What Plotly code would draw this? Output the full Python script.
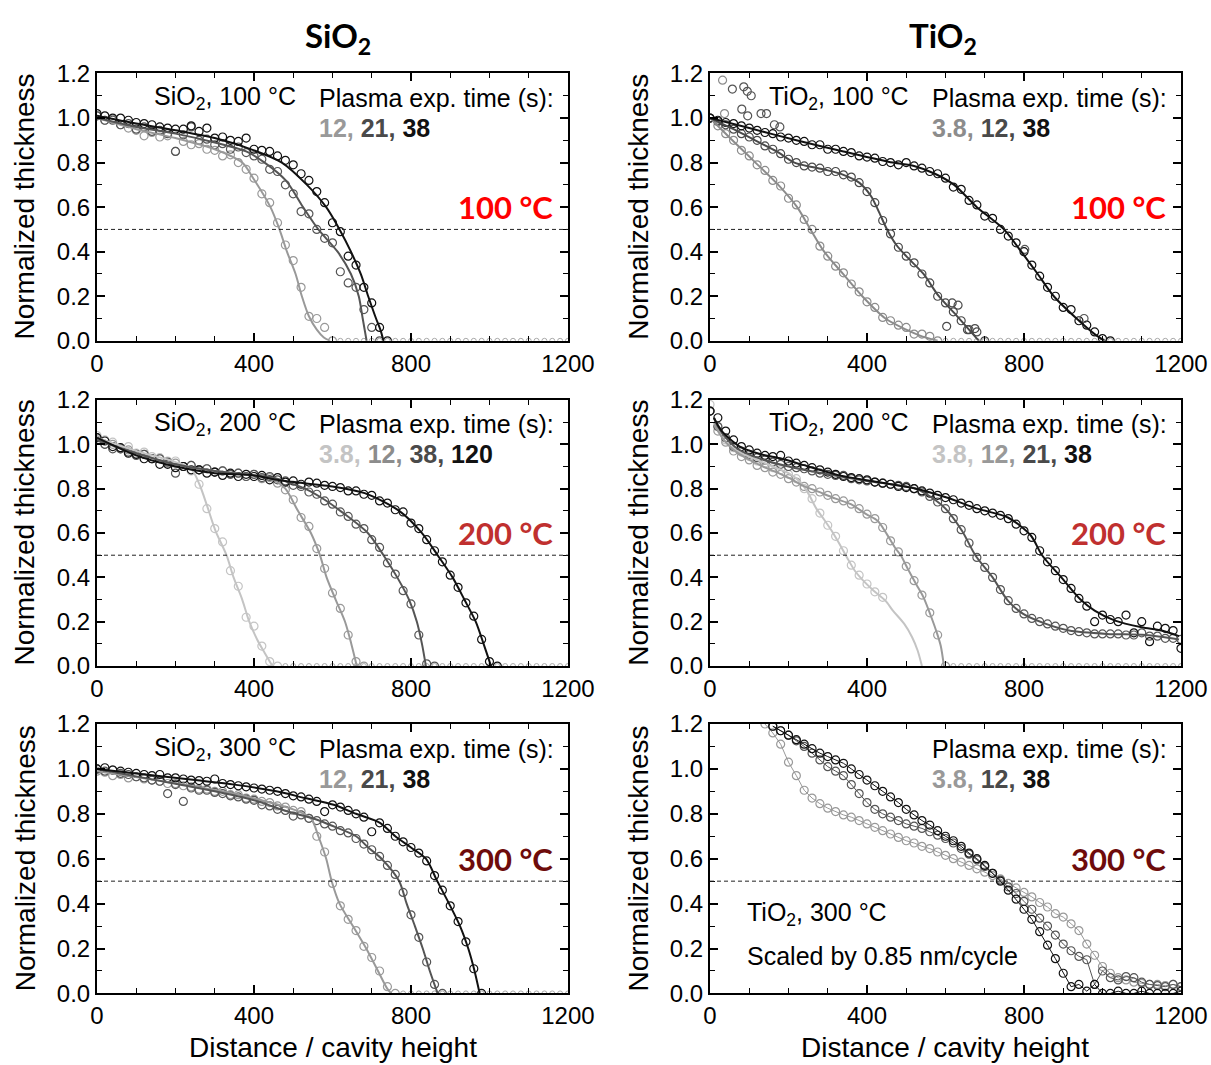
import plotly.graph_objects as go

# ---------------- shared x grid of the measured points ----------------
X_GRID = [0, 20, 40, 60, 80, 100, 120, 140, 160, 180, 200, 220, 240, 260, 280, 300,
          320, 340, 360, 380, 400, 420, 440, 460, 480, 500, 520, 540, 560, 580, 600,
          620, 640, 660, 680, 700, 720, 740, 760, 780, 800, 820, 840, 860, 880, 900,
          920, 940, 960, 980, 1000, 1020, 1040, 1060, 1080, 1100, 1120, 1140, 1160,
          1180, 1200]

# ---------------- Panel A: SiO2, 100 C (times 12, 21, 38 s) ----------------
A12_y = [1.01, 0.99, 0.995, 0.97, 0.955, 0.945, 0.92, 0.935, 0.915, 0.92, 0.85, 0.895,
         0.88, 0.885, 0.86, 0.855, 0.83, 0.835, 0.80, 0.77, 0.73, 0.66, 0.62, 0.53, 0.43,
         0.36, 0.24, 0.11, 0.10, 0.06, 0.0]
A12_fit_x = [0, 100, 200, 300, 370, 398, 442, 465, 484, 506, 522, 540, 560, 578, 594]
A12_fit_y = [1.0, 0.95, 0.91, 0.86, 0.8, 0.73, 0.6, 0.5, 0.4, 0.3, 0.2, 0.11, 0.05, 0.015, 0.0]
A21_y = [1.01, 0.99, 0.99, 0.97, 0.975, 0.95, 0.96, 0.94, 0.945, 0.93, 0.85, 0.925, 0.96,
         0.9, 0.905, 0.88, 0.885, 0.86, 0.87, 0.845, 0.83, 0.815, 0.77, 0.76, 0.7, 0.66,
         0.58, 0.57, 0.5, 0.46, 0.44, 0.31, 0.26, 0.24, 0.14, 0.06, 0.0]
A21_fit_x = [0, 100, 200, 300, 380, 427, 481, 525, 564, 613, 647, 667, 677, 687]
A21_fit_y = [1.0, 0.96, 0.93, 0.89, 0.85, 0.8, 0.72, 0.6, 0.5, 0.4, 0.3, 0.2, 0.1, 0.0]
A38_y = [1.02, 1.01, 1.0, 1.0, 0.99, 0.98, 0.975, 0.97, 0.96, 0.955, 0.95, 0.95, 0.965,
         0.94, 0.955, 0.91, 0.915, 0.9, 0.895, 0.91, 0.86, 0.855, 0.85, 0.83, 0.81, 0.79,
         0.75, 0.72, 0.67, 0.62, 0.53, 0.49, 0.38, 0.34, 0.24, 0.17, 0.06, 0.0]
A38_fit_x = [0, 100, 200, 300, 400, 471, 535, 584, 618, 647, 672, 691, 711, 722, 730]
A38_fit_y = [1.01, 0.975, 0.945, 0.91, 0.855, 0.8, 0.7, 0.6, 0.5, 0.4, 0.3, 0.2, 0.1, 0.05, 0.0]
A_tail_y = [0, 0, 0, 0, 0, 0, 0, 0, 0, 0, 0, 0, 0, 0, 0, 0, 0, 0, 0, 0, 0, 0, 0, 0, 0,
            0, 0, 0, 0, 0]

# ---------------- Panel B: TiO2, 100 C (times 3.8, 12, 38 s) ----------------
B3p8_y = [1.0, 0.965, 0.93, 0.9, 0.855, 0.83, 0.79, 0.765, 0.72, 0.695, 0.64, 0.61, 0.545,
          0.5, 0.425, 0.38, 0.335, 0.305, 0.255, 0.22, 0.175, 0.15, 0.105, 0.09, 0.07,
          0.06, 0.03, 0.03, 0.02, 0.0]
B3p8_out_x = [32, 37]
B3p8_out_y = [1.17, 1.02]
B3p8_fit_x = [0, 57, 110, 174, 222, 256, 291, 339, 388, 447, 500, 540, 580]
B3p8_fit_y = [1.0, 0.9, 0.81, 0.7, 0.6, 0.5, 0.4, 0.3, 0.2, 0.1, 0.05, 0.02, 0.0]
B12_y = [1.0, 0.985, 0.97, 0.95, 0.93, 0.915, 0.9, 0.875, 0.86, 0.84, 0.815, 0.8, 0.785,
         0.78, 0.775, 0.76, 0.76, 0.745, 0.735, 0.71, 0.67, 0.62, 0.54, 0.48, 0.42, 0.38,
         0.35, 0.3, 0.26, 0.2, 0.17, 0.13, 0.09, 0.05, 0.04, 0.0]
B12_out_x = [603, 617, 632, 656, 675]
B12_out_y = [0.065, 0.17, 0.16, 0.05, 0.055]
B12_fit_x = [0, 60, 115, 170, 215, 260, 300, 340, 380, 410, 430, 451, 475, 500, 544, 583, 630, 685]
B12_fit_y = [1.0, 0.95, 0.9, 0.85, 0.8, 0.78, 0.765, 0.745, 0.71, 0.65, 0.58, 0.5, 0.43,
             0.38, 0.3, 0.2, 0.11, 0.0]
B38_y = [1.0, 0.99, 0.98, 0.975, 0.965, 0.955, 0.945, 0.935, 0.93, 0.915, 0.91, 0.9, 0.895,
         0.88, 0.88, 0.86, 0.86, 0.85, 0.845, 0.83, 0.825, 0.82, 0.805, 0.8, 0.79, 0.8,
         0.785, 0.775, 0.76, 0.75, 0.73, 0.69, 0.68, 0.63, 0.61, 0.56, 0.55, 0.5, 0.47,
         0.44, 0.4, 0.34, 0.29, 0.24, 0.2, 0.15, 0.14, 0.09, 0.07, 0.04, 0.01, 0.0]
B38_out_x = [57, 86, 95, 105, 81, 96, 130, 144, 164, 178, 802, 953]
B38_out_y = [1.13, 1.14, 1.12, 1.1, 1.04, 1.01, 1.02, 1.02, 0.97, 0.96, 0.41, 0.1]
B38_fit_x = [0, 100, 220, 340, 466, 520, 573, 622, 680, 749, 793, 835, 876, 934, 980, 1005]
B38_fit_y = [1.0, 0.955, 0.9, 0.85, 0.8, 0.785, 0.75, 0.7, 0.6, 0.5, 0.4, 0.3, 0.2, 0.1, 0.03, 0.0]
B_tail_y = [0, 0, 0, 0, 0, 0, 0, 0, 0, 0, 0, 0, 0, 0, 0, 0, 0, 0, 0, 0, 0, 0, 0, 0, 0,
            0, 0, 0, 0, 0, 0]

# ---------------- Panel C: SiO2, 200 C (times 3.8, 12, 38, 120 s) ----------------
C3p8_y = [1.04, 1.02, 1.01, 0.98, 0.99, 0.96, 0.965, 0.945, 0.94, 0.925, 0.925, 0.9, 0.88,
          0.82, 0.71, 0.62, 0.56, 0.43, 0.36, 0.22, 0.18, 0.09, 0.02, 0.0]
C3p8_fit_x = [0, 100, 200, 240, 261, 281, 302, 330, 348, 370, 388, 408, 427, 447]
C3p8_fit_y = [1.03, 0.97, 0.92, 0.89, 0.82, 0.72, 0.61, 0.5, 0.4, 0.3, 0.2, 0.12, 0.06, 0.0]
C12_y = [1.02, 1.0, 1.0, 0.98, 0.975, 0.955, 0.955, 0.935, 0.935, 0.915, 0.915, 0.9, 0.905,
         0.885, 0.89, 0.875, 0.88, 0.865, 0.87, 0.855, 0.865, 0.845, 0.85, 0.825, 0.795,
         0.75, 0.67, 0.63, 0.53, 0.44, 0.33, 0.26, 0.14, 0.02, 0.0]
C12_fit_x = [0, 100, 200, 300, 400, 450, 480, 512, 545, 568, 585, 608, 632, 648, 662]
C12_fit_y = [1.02, 0.96, 0.91, 0.88, 0.86, 0.84, 0.8, 0.7, 0.6, 0.5, 0.4, 0.3, 0.2, 0.1, 0.0]
C38_y = [1.03, 1.0, 0.98, 0.98, 0.965, 0.95, 0.955, 0.935, 0.935, 0.92, 0.87, 0.9, 0.905,
         0.885, 0.89, 0.875, 0.88, 0.865, 0.87, 0.855, 0.865, 0.85, 0.855, 0.84, 0.835,
         0.815, 0.81, 0.785, 0.775, 0.745, 0.73, 0.695, 0.675, 0.64, 0.62, 0.57, 0.535,
         0.465, 0.415, 0.34, 0.28, 0.14, 0.01, 0.0]
C38_fit_x = [0, 100, 200, 300, 400, 450, 500, 530, 580, 620, 690, 730, 765, 795, 815, 828, 838]
C38_fit_y = [1.02, 0.96, 0.91, 0.88, 0.86, 0.85, 0.82, 0.8, 0.75, 0.7, 0.6, 0.5, 0.4, 0.3,
             0.2, 0.1, 0.0]
C120_y = [1.03, 1.015, 0.99, 0.985, 0.96, 0.955, 0.935, 0.935, 0.91, 0.91, 0.895, 0.9,
          0.885, 0.885, 0.87, 0.875, 0.86, 0.87, 0.855, 0.865, 0.855, 0.86, 0.84, 0.85,
          0.83, 0.835, 0.82, 0.83, 0.825, 0.815, 0.81, 0.805, 0.79, 0.79, 0.775, 0.77,
          0.745, 0.735, 0.705, 0.695, 0.645, 0.62, 0.57, 0.52, 0.47, 0.41, 0.355, 0.285,
          0.225, 0.12, 0.02, 0.0]
C120_fit_x = [0, 100, 200, 300, 400, 457, 550, 600, 682, 770, 828, 868, 906, 936, 965, 985, 1004]
C120_fit_y = [1.03, 0.95, 0.9, 0.87, 0.86, 0.84, 0.82, 0.81, 0.78, 0.7, 0.6, 0.5, 0.4, 0.3,
              0.2, 0.1, 0.0]
C_tail_y = [0, 0, 0, 0, 0, 0, 0, 0, 0, 0, 0, 0, 0, 0, 0, 0, 0, 0, 0, 0, 0, 0, 0, 0, 0,
            0, 0, 0, 0, 0, 0, 0, 0, 0, 0, 0, 0]

# ---------------- Panel D: TiO2, 200 C (times 3.8, 12, 21, 38 s) ----------------
D3p8_y = [1.18, 1.08, 1.02, 0.985, 0.965, 0.945, 0.925, 0.915, 0.895, 0.885, 0.865, 0.845,
          0.8, 0.755, 0.69, 0.635, 0.585, 0.52, 0.455, 0.41, 0.37, 0.335, 0.31]
D3p8_fit_x = [10, 20, 40, 80, 120, 160, 200, 230, 250, 271, 291, 310, 330, 349, 369, 388,
              417, 447, 466, 495, 515, 529, 540]
D3p8_fit_y = [1.12, 1.07, 1.01, 0.96, 0.93, 0.9, 0.87, 0.83, 0.78, 0.71, 0.66, 0.61, 0.55,
              0.49, 0.43, 0.39, 0.34, 0.295, 0.25, 0.19, 0.13, 0.07, 0.0]
D12_y = [1.15, 1.06, 1.01, 0.97, 0.945, 0.93, 0.905, 0.895, 0.875, 0.865, 0.845, 0.83, 0.81,
         0.8, 0.785, 0.77, 0.755, 0.745, 0.73, 0.71, 0.685, 0.665, 0.625, 0.565, 0.515,
         0.45, 0.385, 0.32, 0.24, 0.14, 0.0]
D12_fit_x = [10, 20, 40, 60, 90, 135, 175, 205, 235, 271, 320, 359, 398, 427, 447, 471, 486,
             505, 525, 544, 564, 578, 588, 596]
D12_fit_y = [1.1, 1.06, 1.01, 0.975, 0.94, 0.9, 0.87, 0.845, 0.815, 0.79, 0.755, 0.73, 0.685,
             0.655, 0.605, 0.535, 0.5, 0.435, 0.37, 0.31, 0.22, 0.15, 0.09, 0.0]
D21_y = [1.15, 1.08, 1.03, 0.99, 0.97, 0.955, 0.94, 0.93, 0.92, 0.91, 0.9, 0.895, 0.89,
         0.88, 0.87, 0.865, 0.86, 0.86, 0.845, 0.84, 0.835, 0.83, 0.825, 0.82, 0.815, 0.81,
         0.8, 0.785, 0.765, 0.74, 0.71, 0.665, 0.615, 0.555, 0.49, 0.445, 0.4, 0.345,
         0.295, 0.26, 0.235, 0.215, 0.2, 0.19, 0.18, 0.17, 0.16, 0.155, 0.15, 0.145, 0.145,
         0.145, 0.145, 0.14, 0.14, 0.15, 0.135, 0.135, 0.125, 0.125, 0.12]
D21_fit_x = [10, 20, 40, 70, 120, 200, 300, 400, 480, 525, 573, 600, 642, 676, 720, 759, 798,
             856, 915, 1012, 1110, 1195]
D21_fit_y = [1.12, 1.08, 1.03, 0.98, 0.94, 0.9, 0.865, 0.835, 0.815, 0.8, 0.75, 0.71, 0.61,
             0.5, 0.4, 0.295, 0.235, 0.19, 0.16, 0.145, 0.14, 0.12]
D38_y = [1.15, 1.12, 1.06, 1.02, 0.99, 0.975, 0.96, 0.95, 0.945, 0.95, 0.925, 0.915, 0.905,
         0.895, 0.885, 0.875, 0.865, 0.855, 0.85, 0.845, 0.84, 0.83, 0.825, 0.82, 0.81,
         0.805, 0.8, 0.79, 0.78, 0.77, 0.76, 0.75, 0.735, 0.725, 0.71, 0.7, 0.69, 0.68,
         0.665, 0.64, 0.61, 0.58, 0.52, 0.47, 0.43, 0.39, 0.35, 0.305, 0.27, 0.2, 0.23,
         0.21, 0.2, 0.23, 0.15, 0.2, 0.11, 0.18, 0.17, 0.16, 0.08]
D38_fit_x = [10, 30, 76, 130, 183, 251, 330, 427, 525, 603, 681, 759, 817, 846, 895, 944, 980,
             1032, 1100, 1150, 1195]
D38_fit_y = [1.12, 1.06, 0.99, 0.955, 0.935, 0.9, 0.86, 0.83, 0.8, 0.76, 0.71, 0.67, 0.59,
             0.5, 0.4, 0.3, 0.25, 0.205, 0.175, 0.16, 0.135]
D_tail_y = [0, 0, 0, 0, 0, 0, 0, 0, 0, 0, 0, 0, 0, 0, 0, 0, 0, 0, 0, 0, 0, 0, 0, 0, 0,
            0, 0, 0, 0, 0]

# ---------------- Panel E: SiO2, 300 C (times 12, 21, 38 s) ----------------
E12_y = [0.99, 0.985, 0.97, 0.975, 0.96, 0.965, 0.955, 0.95, 0.945, 0.935, 0.935, 0.925,
         0.92, 0.91, 0.91, 0.9, 0.9, 0.885, 0.885, 0.87, 0.865, 0.855, 0.85, 0.835, 0.83,
         0.815, 0.81, 0.78, 0.7, 0.63, 0.49, 0.39, 0.33, 0.28, 0.21, 0.16, 0.1, 0.03, 0.0]
E12_fit_x = [0, 150, 320, 420, 500, 545, 564, 584, 598, 618, 652, 686, 716, 740, 750]
E12_fit_y = [0.99, 0.95, 0.9, 0.86, 0.82, 0.78, 0.7, 0.6, 0.5, 0.4, 0.3, 0.2, 0.1, 0.02, 0.0]
E21_y = [1.0, 0.99, 0.995, 0.98, 0.975, 0.965, 0.96, 0.95, 0.945, 0.89, 0.93, 0.855, 0.915,
         0.905, 0.905, 0.895, 0.89, 0.88, 0.875, 0.865, 0.86, 0.84, 0.835, 0.82, 0.815,
         0.79, 0.795, 0.78, 0.77, 0.755, 0.745, 0.725, 0.715, 0.69, 0.665, 0.64, 0.61, 0.57,
         0.53, 0.45, 0.35, 0.25, 0.14, 0.04, 0.0]
E21_fit_x = [0, 150, 300, 400, 486, 550, 594, 660, 691, 725, 770, 789, 810, 830, 848, 868]
E21_fit_y = [1.0, 0.95, 0.9, 0.86, 0.81, 0.78, 0.75, 0.7, 0.65, 0.6, 0.5, 0.4, 0.3, 0.2, 0.1, 0.0]
E38_y = [1.0, 1.005, 0.995, 0.99, 0.985, 0.98, 0.975, 0.97, 0.975, 0.96, 0.96, 0.955, 0.95,
         0.948, 0.945, 0.955, 0.935, 0.93, 0.925, 0.92, 0.915, 0.91, 0.905, 0.9, 0.89, 0.88,
         0.875, 0.865, 0.855, 0.81, 0.84, 0.83, 0.815, 0.8, 0.785, 0.72, 0.76, 0.735, 0.7,
         0.675, 0.65, 0.625, 0.59, 0.525, 0.46, 0.39, 0.32, 0.23, 0.11, 0.0]
E38_fit_x = [0, 100, 250, 350, 457, 530, 603, 660, 721, 760, 800, 838, 867, 897, 925, 946, 962, 975]
E38_fit_y = [1.0, 0.98, 0.95, 0.93, 0.9, 0.87, 0.84, 0.8, 0.76, 0.7, 0.65, 0.6, 0.5, 0.4, 0.3,
             0.2, 0.1, 0.0]
E_tail_y = [0, 0, 0, 0, 0, 0, 0, 0, 0, 0, 0, 0, 0, 0, 0, 0, 0, 0, 0, 0, 0, 0]

# ---------------- Panel F: TiO2, 300 C, scaled (times 3.8, 12, 38 s) ----------------
F3p8_y = [1.2, 1.16, 1.11, 1.03, 0.97, 0.905, 0.87, 0.845, 0.825, 0.81, 0.795, 0.785, 0.77,
          0.755, 0.74, 0.725, 0.71, 0.695, 0.68, 0.67, 0.655, 0.645, 0.63, 0.615, 0.6,
          0.585, 0.57, 0.555, 0.54, 0.525, 0.51, 0.49, 0.47, 0.45, 0.43, 0.405, 0.385,
          0.355, 0.34, 0.31, 0.28, 0.22, 0.17, 0.12, 0.09, 0.07, 0.06, 0.05, 0.045, 0.04,
          0.04, 0.035, 0.04, 0.03]
F12_y = [1.19, 1.17, 1.15, 1.125, 1.1, 1.07, 1.04, 1.01, 0.99, 0.97, 0.93, 0.89, 0.85, 0.82,
         0.8, 0.785, 0.77, 0.755, 0.745, 0.735, 0.72, 0.705, 0.69, 0.67, 0.645, 0.62, 0.595,
         0.565, 0.535, 0.505, 0.475, 0.445, 0.41, 0.375, 0.335, 0.3, 0.26, 0.22, 0.19,
         0.165, 0.15, 0.04, 0.1, 0.07, 0.06, 0.075, 0.07, 0.05, 0.04, 0.035, 0.03, 0.04, 0.03]
F38_y = [1.19, 1.17, 1.15, 1.13, 1.11, 1.09, 1.07, 1.055, 1.04, 1.025, 1.0, 0.975, 0.95,
         0.925, 0.9, 0.875, 0.85, 0.82, 0.795, 0.77, 0.75, 0.725, 0.7, 0.68, 0.655, 0.625,
         0.6, 0.57, 0.535, 0.5, 0.46, 0.42, 0.375, 0.33, 0.275, 0.215, 0.155, 0.09, 0.03,
         0.04, 0.01, 0.04, 0.0, 0.0, 0.01, 0.0, 0.0, 0.01, 0.0, 0.0, 0.0, 0.0, 0.01]
F3p8_start = 140
F12_start = 160
F38_start = 160

# ---------------- colours ----------------
LIGHT = "#c4c4c4"
MID = "#999999"
MIDB = "#8c8c8c"
DARK = "#555555"
DARKB = "#4a4a4a"
BLACK = "#111111"
TAIL = "#aaaaaa"
RED100 = "#ff0000"
RED200 = "#c0302f"
RED300 = "#6e0b0b"

FONT = "Arial, Liberation Sans, sans-serif"
BOLDFONT = "Lato, Open Sans, sans-serif"
MSIZE = 8


def gx(start, n):
    i = X_GRID.index(start)
    return X_GRID[i:i + n]


fig = go.Figure()

# panel: (axis index, series list, tail start, tail y, outliers)
# series: (y, start, fit_x, fit_y, colour)
PANELS = [
    (1, [(A12_y, 0, A12_fit_x, A12_fit_y, MID), (A21_y, 0, A21_fit_x, A21_fit_y, DARK),
         (A38_y, 0, A38_fit_x, A38_fit_y, BLACK)], 620, A_tail_y, []),
    (2, [(B3p8_y, 0, B3p8_fit_x, B3p8_fit_y, MIDB), (B12_y, 0, B12_fit_x, B12_fit_y, DARKB),
         (B38_y, 0, B38_fit_x, B38_fit_y, BLACK)], 600, B_tail_y,
     [(B3p8_out_x, B3p8_out_y, MIDB), (B12_out_x, B12_out_y, DARKB),
      (B38_out_x, B38_out_y, DARK)]),
    (3, [(C3p8_y, 0, C3p8_fit_x, C3p8_fit_y, LIGHT), (C12_y, 0, C12_fit_x, C12_fit_y, MID),
         (C38_y, 0, C38_fit_x, C38_fit_y, DARK), (C120_y, 0, C120_fit_x, C120_fit_y, BLACK)],
     480, C_tail_y, []),
    (4, [(D3p8_y, 0, D3p8_fit_x, D3p8_fit_y, LIGHT), (D12_y, 0, D12_fit_x, D12_fit_y, MID),
         (D21_y, 0, D21_fit_x, D21_fit_y, DARK), (D38_y, 0, D38_fit_x, D38_fit_y, BLACK)],
     620, D_tail_y, []),
    (5, [(E12_y, 0, E12_fit_x, E12_fit_y, MID), (E21_y, 0, E21_fit_x, E21_fit_y, DARK),
         (E38_y, 0, E38_fit_x, E38_fit_y, BLACK)], 780, E_tail_y, []),
]

for ax, series, tail_start, tail_y, outliers in PANELS:
    xa = "x" if ax == 1 else f"x{ax}"
    ya = "y" if ax == 1 else f"y{ax}"
    fig.add_trace(go.Scatter(x=gx(tail_start, len(tail_y)), y=tail_y, mode="markers",
                             marker=dict(symbol="circle-open", size=5, color=TAIL,
                                         line=dict(width=1)),
                             xaxis=xa, yaxis=ya, showlegend=False, hoverinfo="skip"))
    for y, start, fx, fy, col in series:
        fig.add_trace(go.Scatter(x=gx(start, len(y)), y=y, mode="markers",
                                 marker=dict(symbol="circle-open", size=MSIZE, color=col,
                                             line=dict(width=1.2)),
                                 xaxis=xa, yaxis=ya, showlegend=False))
    for ox, oy, col in outliers:
        fig.add_trace(go.Scatter(x=ox, y=oy, mode="markers",
                                 marker=dict(symbol="circle-open", size=MSIZE, color=col,
                                             line=dict(width=1.2)),
                                 xaxis=xa, yaxis=ya, showlegend=False))
    for y, start, fx, fy, col in series:
        fig.add_trace(go.Scatter(x=fx, y=fy, mode="lines",
                                 line=dict(color=col, width=2, shape="spline", smoothing=0.8),
                                 xaxis=xa, yaxis=ya, showlegend=False))

# Panel F: points joined by thin lines
for y, start, col in [(F3p8_y, F3p8_start, MID), (F12_y, F12_start, DARK),
                      (F38_y, F38_start, BLACK)]:
    fig.add_trace(go.Scatter(x=gx(start, len(y)), y=y, mode="lines+markers",
                             line=dict(color=col, width=1),
                             marker=dict(symbol="circle-open", size=MSIZE, color=col,
                                         line=dict(width=1.2)),
                             xaxis="x6", yaxis="y6", showlegend=False))

# ---------------- axes ----------------
LEFT = [0.0801, 0.4690]
RIGHT = [0.5863, 0.9752]
ROWS = [[0.680, 0.931], [0.3746, 0.6244], [0.0672, 0.3202]]

axis_common = dict(showline=True, linecolor="black", linewidth=2, mirror="allticks",
                   ticks="inside", ticklen=8, tickwidth=1.5, tickcolor="black",
                   showgrid=False, zeroline=False, automargin=False,
                   tickfont=dict(family=FONT, size=24, color="black"))

layout = dict(width=1211, height=1065,
              margin=dict(l=0, r=0, t=0, b=0, pad=0, autoexpand=False),
              paper_bgcolor="white", plot_bgcolor="white", showlegend=False)

for k in range(6):
    row, col = divmod(k, 2)
    idx = k + 1
    xname = "xaxis" if idx == 1 else f"xaxis{idx}"
    yname = "yaxis" if idx == 1 else f"yaxis{idx}"
    yanchor = "y" if idx == 1 else f"y{idx}"
    xanchor = "x" if idx == 1 else f"x{idx}"
    layout[xname] = dict(axis_common, domain=LEFT if col == 0 else RIGHT, anchor=yanchor,
                         range=[0, 1200], tickmode="linear", tick0=0, dtick=400,
                         minor=dict(dtick=100, tick0=0, ticks="inside", ticklen=5,
                                    tickwidth=1.2, tickcolor="black", showgrid=False))
    layout[yname] = dict(axis_common, domain=ROWS[row], anchor=xanchor,
                         range=[0, 1.2], tickmode="linear", tick0=0, dtick=0.2,
                         tickformat=".1f",
                         minor=dict(dtick=0.1, tick0=0, ticks="inside", ticklen=5,
                                    tickwidth=1.2, tickcolor="black", showgrid=False))

fig.update_layout(**layout)

# dashed 50 % lines
for k in range(6):
    idx = k + 1
    fig.add_shape(type="line", x0=0, x1=1200, y0=0.5, y1=0.5,
                  xref="x" if idx == 1 else f"x{idx}", yref="y" if idx == 1 else f"y{idx}",
                  line=dict(color="#222222", width=1, dash="4px,3px"))

# ---------------- annotations ----------------
ann = []


def add(text, x, y, ax, size=25, family=FONT, color="black", xanchor="left", yanchor="middle"):
    ann.append(dict(text=text, x=x, y=y, xref="x" if ax == 1 else f"x{ax}",
                    yref="y" if ax == 1 else f"y{ax}", showarrow=False,
                    xanchor=xanchor, yanchor=yanchor,
                    font=dict(family=family, size=size, color=color)))


def times(parts):
    return "<b>" + " ".join(f'<span style="color:{c}">{t}</span>' for t, c in parts) + "</b>"


PLASMA = "Plasma exp. time (s):"
add("SiO<sub>2</sub>, 100 °C", 140, 1.09, 1)
add(PLASMA, 560, 1.09, 1)
add(times([("12,", MID), ("21,", DARKB), ("38", BLACK)]), 560, 0.955, 1)
add("<b>100 °C</b>", 1168, 0.6, 1, size=31, family=BOLDFONT, color=RED100, xanchor="right")

add("TiO<sub>2</sub>, 100 °C", 145, 1.09, 2)
add(PLASMA, 560, 1.09, 2)
add(times([("3.8,", MIDB), ("12,", DARKB), ("38", BLACK)]), 560, 0.955, 2)
add("<b>100 °C</b>", 1168, 0.6, 2, size=31, family=BOLDFONT, color=RED100, xanchor="right")

add("SiO<sub>2</sub>, 200 °C", 140, 1.09, 3)
add(PLASMA, 560, 1.09, 3)
add(times([("3.8,", LIGHT), ("12,", MIDB), ("38,", DARKB), ("120", BLACK)]), 560, 0.955, 3)
add("<b>200 °C</b>", 1168, 0.6, 3, size=31, family=BOLDFONT, color=RED200, xanchor="right")

add("TiO<sub>2</sub>, 200 °C", 145, 1.09, 4)
add(PLASMA, 560, 1.09, 4)
add(times([("3.8,", LIGHT), ("12,", MID), ("21,", DARKB), ("38", BLACK)]), 560, 0.955, 4)
add("<b>200 °C</b>", 1168, 0.6, 4, size=31, family=BOLDFONT, color=RED200, xanchor="right")

add("SiO<sub>2</sub>, 300 °C", 140, 1.09, 5)
add(PLASMA, 560, 1.09, 5)
add(times([("12,", MID), ("21,", DARKB), ("38", BLACK)]), 560, 0.955, 5)
add("<b>300 °C</b>", 1168, 0.6, 5, size=31, family=BOLDFONT, color=RED300, xanchor="right")

add(PLASMA, 560, 1.09, 6)
add(times([("3.8,", MID), ("12,", DARKB), ("38", BLACK)]), 560, 0.955, 6)
add("<b>300 °C</b>", 1168, 0.6, 6, size=31, family=BOLDFONT, color=RED300, xanchor="right")
add("TiO<sub>2</sub>, 300 °C", 89, 0.355, 6)
add("Scaled by 0.85 nm/cycle", 89, 0.166, 6)

# column titles
for text, x in [("<b>SiO<sub>2</sub></b>", 0.279), ("<b>TiO<sub>2</sub></b>", 0.779)]:
    ann.append(dict(text=text, x=x, y=0.965, xref="paper", yref="paper", showarrow=False,
                    xanchor="center", yanchor="middle",
                    font=dict(family=BOLDFONT, size=33, color="black")))

# y-axis titles
for x in [0.0206, 0.527]:
    for yc in [0.806, 0.5, 0.194]:
        ann.append(dict(text="Normalized thickness", x=x, y=yc, xref="paper", yref="paper",
                        showarrow=False, textangle=-90, xanchor="center", yanchor="middle",
                        font=dict(family=FONT, size=28, color="black")))

# x-axis titles
for x in [0.275, 0.780]:
    ann.append(dict(text="Distance / cavity height", x=x, y=0.016, xref="paper",
                    yref="paper", showarrow=False, xanchor="center", yanchor="middle",
                    font=dict(family=FONT, size=28, color="black")))

fig.update_layout(annotations=ann)

fig.write_html("out.html")
